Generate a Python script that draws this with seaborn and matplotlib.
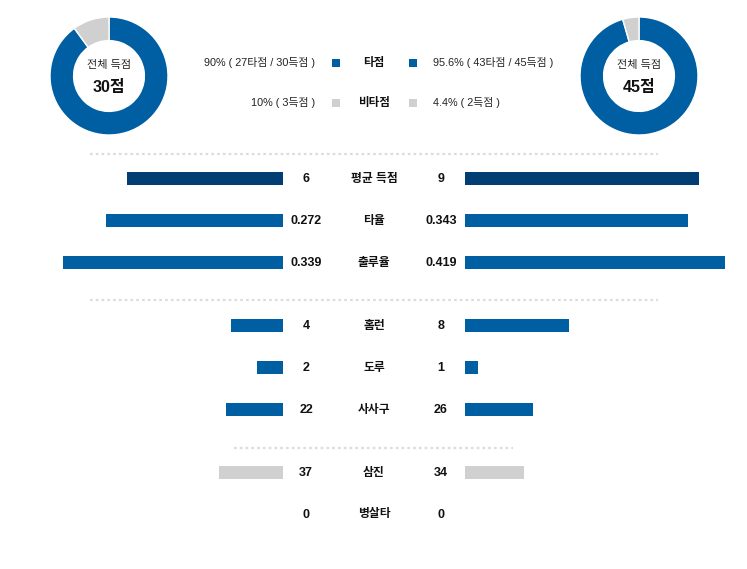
import matplotlib
matplotlib.use('Agg')
import matplotlib.pyplot as plt
import seaborn as sns
import pandas as pd
import numpy as np

# ---------------- data ----------------
categories = ['평균 득점', '타율', '출루율', '홈런', '도루', '사사구', '삼진', '병살타']
home_values = [6, 0.272, 0.339, 4, 2, 22, 37, 0]
away_values = [9, 0.343, 0.419, 8, 1, 26, 34, 0]
home_labels = ['6', '0.272', '0.339', '4', '2', '22', '37', '0']
away_labels = ['9', '0.343', '0.419', '8', '1', '26', '34', '0']
scale_max = [10, 0.4, 0.4, 20, 20, 100, 150, 150]   # full bar length reference per row

home_total = 30
away_total = 45
home_split = [27, 3]    # 타점, 비타점
away_split = [43, 2]
split_labels = ['타점', '비타점']
home_split_text = ['90% ( 27타점 / 30득점 )', '10% ( 3득점 )']
away_split_text = ['95.6% ( 43타점 / 45득점 )', '4.4% ( 2득점 )']

# ---------------- layout / style ----------------
row_pos = [0, 1, 2, 3.5, 4.5, 5.5, 7, 8]
NAVY = '#023e73'
BLUE = '#005ea2'
GRAY = '#d0d0d0'
row_colors = [NAVY, BLUE, BLUE, BLUE, BLUE, BLUE, GRAY, GRAY]

W, H = 747, 569
sns.set_theme(style='white')
plt.rcParams['font.family'] = ['Liberation Sans', 'Noto Sans CJK KR', 'DejaVu Sans']

fig = plt.figure(figsize=(W / 100, H / 100), dpi=100, facecolor='white')

# pixel geometry
ROW0_Y = 178.5
ROW_STEP = 42.0
AX_TOP, AX_BOT = 150.0, 540.0
y_top = (AX_TOP - ROW0_Y) / ROW_STEP
y_bot = (AX_BOT - ROW0_Y) / ROW_STEP

df = pd.DataFrame({
    'cat': categories,
    'pos': row_pos,
    'home': np.minimum(np.array(home_values) / np.array(scale_max), 1.0),
    'away': np.minimum(np.array(away_values) / np.array(scale_max), 1.0),
})
pal = dict(zip(categories, row_colors))

def bar_axes(left_px, col, invert):
    ax = fig.add_axes([left_px / W, (H - AX_BOT) / H, 260 / W, (AX_BOT - AX_TOP) / H])
    sns.barplot(data=df, x=col, y='pos', hue='cat', palette=pal, orient='h',
                native_scale=True, dodge=False, legend=False, errorbar=None,
                width=12.5 / 42, saturation=1, linewidth=0, ax=ax)
    ax.set_xlim((1, 0) if invert else (0, 1))
    ax.set_ylim(y_bot, y_top)
    ax.axis('off')
    return ax

bar_axes(23, 'home', True)
bar_axes(465, 'away', False)

# overlay for texts / separators
ov = fig.add_axes([0, 0, 1, 1])
ov.set_xlim(0, W)
ov.set_ylim(H, 0)
ov.axis('off')

for cat, p, hl, al in zip(categories, row_pos, home_labels, away_labels):
    y = ROW0_Y + p * ROW_STEP
    ov.text(306, y, hl, ha='center', va='center', fontsize=9, fontweight='bold', color='#111111')
    ov.text(374, y, cat, ha='center', va='center', fontsize=8.5, fontweight='bold', color='#111111')
    ov.text(441, y, al, ha='center', va='center', fontsize=9, fontweight='bold', color='#111111')

# dotted separators
for y, x0, x1 in [(153.5, 90, 658), (300, 90, 658), (448, 234, 513)]:
    ov.plot([x0, x1], [y, y], color='#dcdcdc', lw=1.6, linestyle=(0, (1.2, 1.4)),
            solid_capstyle='butt')

# legend rows
for i, (lab, ht, at, c) in enumerate(zip(split_labels, home_split_text, away_split_text, [BLUE, GRAY])):
    y = 62.5 + i * 40
    ov.text(315, y, ht, ha='right', va='center', fontsize=7.8, color='#222222')
    ov.scatter([336], [y], marker='s', s=30, color=c, linewidths=0)
    ov.text(374, y, lab, ha='center', va='center', fontsize=8.3, fontweight='bold', color='#111111')
    ov.scatter([413], [y], marker='s', s=30, color=c, linewidths=0)
    ov.text(433, y, at, ha='left', va='center', fontsize=7.8, color='#222222')

# donuts
def donut(cx, cy, vals, total):
    r = 59
    ax = fig.add_axes([(cx - r) / W, (H - cy - r) / H, 2 * r / W, 2 * r / H])
    ax.pie(vals, colors=[BLUE, GRAY], startangle=90, counterclock=False, radius=1,
           wedgeprops=dict(width=0.4, edgecolor='white', linewidth=1))
    ax.set_xlim(-1, 1)
    ax.set_ylim(-1, 1)
    ax.set_aspect('equal')
    ax.axis('off')
    ax.text(0, 0.19, '전체 득점', ha='center', va='center', fontsize=8, color='#222222')
    ax.text(0, -0.19, f'{total}점', ha='center', va='center', fontsize=11.5,
            fontweight='bold', color='#111111')

donut(109, 76, home_split, home_total)
donut(639, 76, away_split, away_total)

fig.savefig('out.png', dpi=100, facecolor='white')
